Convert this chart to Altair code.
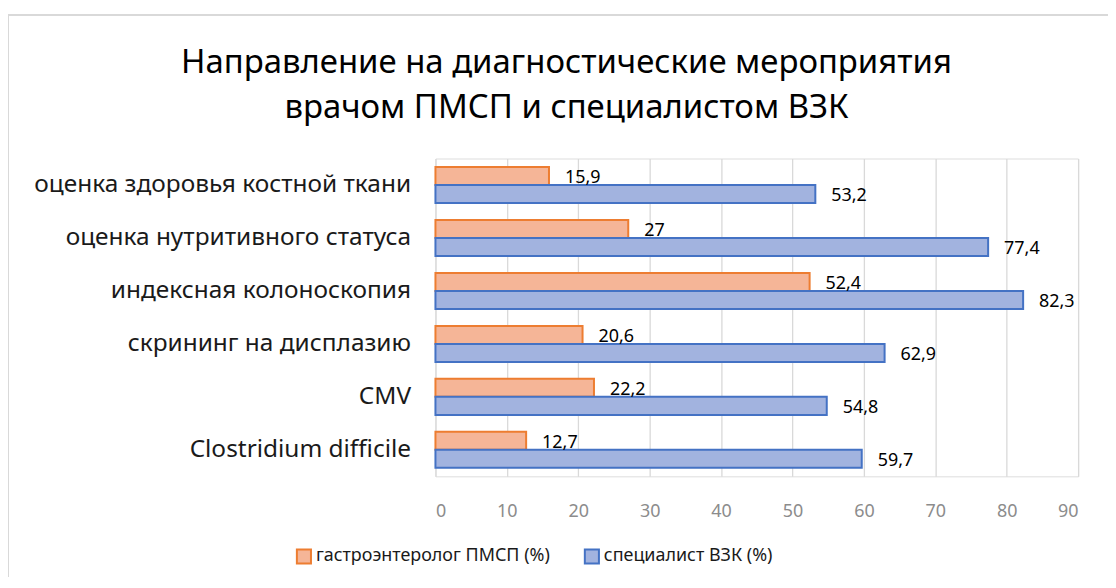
import altair as alt
import pandas as pd

categories = [
    "оценка здоровья костной ткани\u00a0",
    "оценка нутритивного статуса",
    "индексная колоноскопия",
    "скрининг на дисплазию",
    "CMV",
    "Clostridium difficile",
]
series = ["гастроэнтеролог ПМСП (%)", "специалист ВЗК (%)"]
gastro = [15.9, 27, 52.4, 20.6, 22.2, 12.7]
ibd = [53.2, 77.4, 82.3, 62.9, 54.8, 59.7]
fills = ["#F5B597", "#A2B3DF"]
strokes = ["#ED7D31", "#4472C4"]

rows = []
for c, g, b in zip(categories, gastro, ibd):
    for s, v in zip(series, [g, b]):
        rows.append({"cat": c, "series": s, "value": v,
                     "label": (f"{v:g}").replace(".", ",")})
df = pd.DataFrame(rows)

FONT = "Noto Sans"

y = alt.Y("cat:N", sort=categories, title=None,
          scale=alt.Scale(paddingInner=0.32, paddingOuter=0.16),
          axis=alt.Axis(domain=False, ticks=False, labelFontSize=24.5,
                        labelColor="#1a1a1a", labelPadding=25, labelFont=FONT,
                        labelLimit=450))
x = alt.X("value:Q", title=None,
          scale=alt.Scale(domain=[0, 90], nice=False),
          axis=alt.Axis(values=list(range(0, 91, 10)), domain=False, ticks=False,
                        grid=True, gridColor="#D9D9D9", gridWidth=1.3,
                        labelFontSize=18, labelColor="#8C8C8C", labelPadding=26,
                        labelFont=FONT))
yoff = alt.YOffset("series:N", sort=series, scale=alt.Scale(domain=series, paddingInner=0, paddingOuter=0))

leg = alt.Legend(title=None, orient="none", legendX=-141, legendY=390,
                 direction="horizontal", symbolType="square",
                 symbolSize=200, symbolStrokeWidth=2, labelLimit=400,
                 labelFontSize=18, labelColor="#1a1a1a", labelFont=FONT,
                 columnPadding=30, labelOffset=3)

bars = alt.Chart(df).mark_bar(strokeWidth=2).encode(
    y=y, x=x, yOffset=yoff,
    fill=alt.Fill("series:N", sort=series,
                  scale=alt.Scale(domain=series, range=fills), legend=leg),
    stroke=alt.Stroke("series:N", sort=series,
                      scale=alt.Scale(domain=series, range=strokes), legend=leg),
)

labels = alt.Chart(df).mark_text(align="left", baseline="middle", dx=16, dy=2,
                                 fontSize=18, font=FONT, color="#000000").encode(
    y=alt.Y("cat:N", sort=categories), x="value:Q", yOffset=yoff, text="label:N"
)

# light chart frame (top and left edges, as in the reference)
frame_top = alt.Chart(pd.DataFrame({"k": [0]})).mark_rule(color="#D9D9D9", strokeWidth=2).encode(
    x=alt.value(-429), x2=alt.value(700), y=alt.value(-144))
frame_left = alt.Chart(pd.DataFrame({"k": [0]})).mark_rule(color="#D9D9D9", strokeWidth=2).encode(
    x=alt.value(-429), y=alt.value(-144), y2=alt.value(440))

chart = alt.layer(bars, labels, frame_top, frame_left).properties(
    width=645, height=319,
    title=alt.Title(["Направление на диагностические мероприятия",
                     "врачом ПМСП и специалистом ВЗК"],
                    fontSize=33, font=FONT, fontWeight="normal", color="#000000",
                    anchor="middle", dx=-191, offset=-111, lineHeight=45),
    autosize=alt.AutoSizeParams(type="none"),
    padding={"left": 429, "top": 150, "right": 30, "bottom": 100},
).configure_view(stroke=None).configure(background="white")

chart.save("out.html", embed_options={"renderer": "svg", "actions": False})
